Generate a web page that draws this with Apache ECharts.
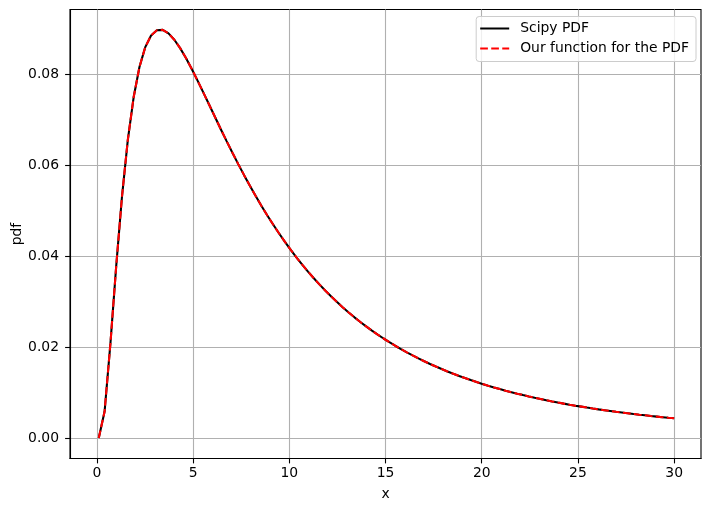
<!DOCTYPE html>
<html>
<head>
<meta charset="utf-8">
<script src="https://cdn.jsdelivr.net/npm/echarts@6/dist/echarts.min.js"></script>
<style>html,body{margin:0;padding:0;background:#fff}#c{width:711px;height:511px}</style>
</head>
<body>
<div id="c"></div>
<script>
var xValues = [0.1, 0.402, 0.704, 1.006, 1.308, 1.610, 1.912, 2.214, 2.516, 2.818,
  3.120, 3.422, 3.724, 4.026, 4.328, 4.630, 4.932, 5.234, 5.536, 5.838,
  6.140, 6.442, 6.744, 7.046, 7.348, 7.651, 7.953, 8.255, 8.557, 8.859,
  9.161, 9.463, 9.765, 10.067, 10.369, 10.671, 10.973, 11.275, 11.577, 11.879,
  12.181, 12.483, 12.785, 13.087, 13.389, 13.691, 13.993, 14.295, 14.597, 14.899,
  15.201, 15.503, 15.805, 16.107, 16.409, 16.711, 17.013, 17.315, 17.617, 17.919,
  18.221, 18.523, 18.825, 19.127, 19.429, 19.731, 20.033, 20.335, 20.637, 20.939,
  21.241, 21.543, 21.845, 22.147, 22.449, 22.752, 23.054, 23.356, 23.658, 23.960,
  24.262, 24.564, 24.866, 25.168, 25.470, 25.772, 26.074, 26.376, 26.678, 26.980,
  27.282, 27.584, 27.886, 28.188, 28.490, 28.792, 29.094, 29.396, 29.698, 30.0];
var scipyPdf = [0.00005, 0.00589, 0.02077, 0.03787, 0.05325, 0.06568, 0.07503, 0.08168, 0.08606, 0.08863,
  0.08979, 0.08985, 0.08908, 0.08769, 0.08584, 0.08366, 0.08125, 0.07869, 0.07605, 0.07337,
  0.07068, 0.06801, 0.06539, 0.06282, 0.06032, 0.05790, 0.05555, 0.05329, 0.05112, 0.04903,
  0.04703, 0.04511, 0.04327, 0.04151, 0.03983, 0.03822, 0.03668, 0.03521, 0.03381, 0.03247,
  0.03119, 0.02997, 0.02880, 0.02768, 0.02662, 0.02560, 0.02463, 0.02370, 0.02281, 0.02196,
  0.02115, 0.02037, 0.01963, 0.01892, 0.01824, 0.01758, 0.01696, 0.01636, 0.01579, 0.01524,
  0.01471, 0.01421, 0.01372, 0.01326, 0.01281, 0.01238, 0.01197, 0.01158, 0.01120, 0.01083,
  0.01048, 0.01015, 0.00982, 0.00951, 0.00921, 0.00892, 0.00865, 0.00838, 0.00812, 0.00787,
  0.00763, 0.00740, 0.00718, 0.00697, 0.00676, 0.00656, 0.00637, 0.00619, 0.00601, 0.00583,
  0.00567, 0.00551, 0.00535, 0.00520, 0.00506, 0.00491, 0.00478, 0.00465, 0.00452, 0.00440];
var ourPdf = scipyPdf.slice();
var xTicks = [0, 5, 10, 15, 20, 25, 30];
var yTicks = [0, 0.02, 0.04, 0.06, 0.08];
var seriesNames = ['Scipy PDF', 'Our function for the PDF'];

function pairs(xs, ys) { return xs.map(function (x, i) { return [x, ys[i]]; }); }

var FONT = 'DejaVu Sans';
var chart = echarts.init(document.getElementById('c'), null, {renderer: 'canvas'});
chart.setOption({
  animation: false,
  backgroundColor: '#ffffff',
  textStyle: {fontFamily: FONT},
  grid: {left: 70, right: 10, top: 9.5, bottom: 52.5, containLabel: false, outerBoundsMode: 'none',
    show: true, borderColor: '#000', borderWidth: 1.1, backgroundColor: 'transparent'},
  legend: {
    orient: 'vertical', right: 15, top: 16.5,
    backgroundColor: 'rgba(255,255,255,0.8)', borderColor: '#cccccc', borderWidth: 1, borderRadius: 3,
    padding: [5, 7, 6, 3], itemGap: 6, itemWidth: 29, itemHeight: 14,
    itemStyle: {opacity: 0},
    textStyle: {fontFamily: FONT, fontSize: 13.9, color: '#000', lineHeight: 14, padding: [0, 0, 0, 6]},
    data: seriesNames
  },
  xAxis: {
    type: 'value', min: -1.395, max: 31.395,
    name: 'x', nameLocation: 'middle', nameGap: 29, nameMoveOverlap: false,
    nameTextStyle: {fontFamily: FONT, fontSize: 13.9, color: '#000'},
    axisLine: {show: true, onZero: false, lineStyle: {color: '#000', width: 1.1}},
    axisTick: {show: true, length: 4.9, lineStyle: {color: '#000', width: 1.1}, customValues: xTicks},
    axisLabel: {fontFamily: FONT, fontSize: 13.9, color: '#000', margin: 8, customValues: xTicks},
    splitLine: {show: true, lineStyle: {color: '#b0b0b0', width: 1.1}}
  },
  yAxis: {
    type: 'value', min: -0.00444, max: 0.09434,
    name: 'pdf', nameLocation: 'middle', nameGap: 46, nameRotate: 90, nameMoveOverlap: false,
    nameTextStyle: {fontFamily: FONT, fontSize: 13.9, color: '#000'},
    axisLine: {show: true, onZero: false, lineStyle: {color: '#000', width: 1.1}},
    axisTick: {show: true, length: 4.9, lineStyle: {color: '#000', width: 1.1}, customValues: yTicks},
    axisLabel: {fontFamily: FONT, fontSize: 13.9, color: '#000', margin: 11, customValues: yTicks,
      formatter: function (v) { return v.toFixed(2); }},
    splitLine: {show: true, lineStyle: {color: '#b0b0b0', width: 1.1}}
  },
  series: [
    {name: seriesNames[0], type: 'line', data: pairs(xValues, scipyPdf), symbol: 'none', showSymbol: false,
      lineStyle: {color: '#000000', width: 2.08}, itemStyle: {color: '#000000'}, z: 3},
    {name: seriesNames[1], type: 'line', data: pairs(xValues, ourPdf), symbol: 'none', showSymbol: false,
      lineStyle: {color: '#ff0000', width: 2.08, type: [7.7, 3.33]}, itemStyle: {color: '#ff0000'}, z: 4}
  ]
});
</script>
</body>
</html>
